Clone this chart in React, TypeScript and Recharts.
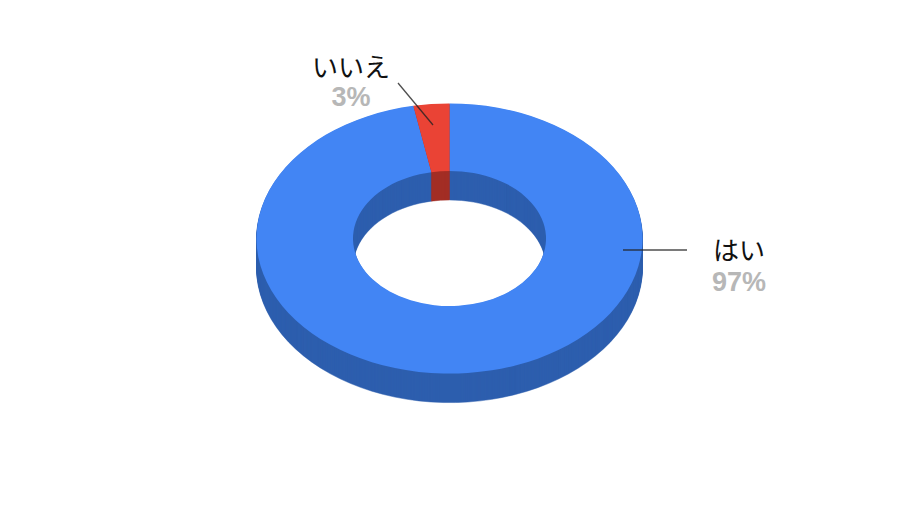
import { PieChart, Pie, Cell, Sector } from 'recharts';

const categories = ['はい', 'いいえ'];
const shares = [97, 3];
const percentLabels = ['97%', '3%'];
const topColors = ['#4285f4', '#ea4335'];
const sideColors = ['#2d5eae', '#a32e25'];

const data = categories.map((name, i) => ({ name, value: shares[i] }));

const CX = 449.5;
const CY = 238.5;
const OUTER = 193;
const INNER = 96.5;
const SQUASH = 0.7;
const DEPTH = 29;

// one ring per pixel of thickness, bottom first
const depthSteps: number[] = [];
for (let d = DEPTH; d > 0; d--) depthSteps.push(d);

// flatten a round sector into the tilted ellipse
const tiltedSector = (dy: number) => (props: any) => (
  <g transform={`translate(${props.cx} ${props.cy + dy}) scale(1 ${SQUASH}) translate(${-props.cx} ${-props.cy})`}>
    <Sector {...props} stroke={dy > 0 ? props.fill : 'none'} strokeWidth={dy > 0 ? 0.6 : 0} />
  </g>
);

const calloutPositions = [
  { line: [623, 250, 687, 250], x: 739, nameY: 260, pctY: 291 },
  { line: [398, 83, 433, 125], x: 351, nameY: 77, pctY: 106 },
];

const renderCallout = ({ index }: any) => {
  const c = calloutPositions[index];
  return (
    <g key={categories[index]}>
      <line x1={c.line[0]} y1={c.line[1]} x2={c.line[2]} y2={c.line[3]} stroke="#222222" strokeOpacity={0.8} strokeWidth={1.3} />
      <text x={c.x} y={c.nameY} textAnchor="middle" fontSize={26} fill="#111111" fontFamily="'Noto Sans CJK JP', sans-serif">
        {categories[index]}
      </text>
      <text x={c.x} y={c.pctY} textAnchor="middle" fontSize={27} fontWeight="bold" fill="#b7b7b7" fontFamily="'Liberation Sans', Arial, sans-serif">
        {percentLabels[index]}
      </text>
    </g>
  );
};

export default function App() {
  return (
    <div style={{ position: 'absolute', left: 0, top: 0, width: 900, height: 506, background: '#ffffff' }}>
      <PieChart width={900} height={506} margin={{ top: 0, right: 0, bottom: 0, left: 0 }}>
        {depthSteps.map((d) => (
          <Pie
            key={d}
            data={data}
            dataKey="value"
            cx={CX}
            cy={CY}
            innerRadius={INNER}
            outerRadius={OUTER}
            startAngle={90}
            endAngle={-270}
            paddingAngle={0}
            stroke="none"
            shape={tiltedSector(d)}
            isAnimationActive={false}
          >
            {data.map((_, i) => (
              <Cell key={i} fill={sideColors[i]} />
            ))}
          </Pie>
        ))}
        <Pie
          data={data}
          dataKey="value"
          cx={CX}
          cy={CY}
          innerRadius={INNER}
          outerRadius={OUTER}
          startAngle={90}
          endAngle={-270}
          paddingAngle={0}
          stroke="none"
          shape={tiltedSector(0)}
          label={renderCallout}
          labelLine={false}
          isAnimationActive={false}
        >
          {data.map((_, i) => (
            <Cell key={i} fill={topColors[i]} />
          ))}
        </Pie>
      </PieChart>
    </div>
  );
}
